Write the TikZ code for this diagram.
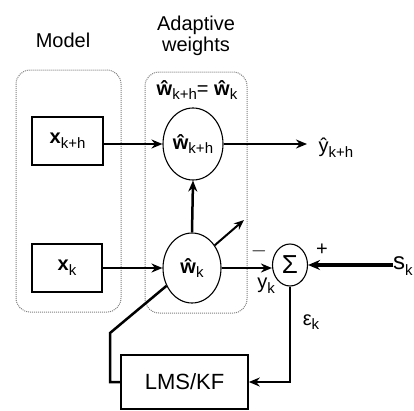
\documentclass[tikz,border=0pt]{standalone}
\usepackage{fontspec}
\setmainfont{Liberation Sans}
\usetikzlibrary{arrows.meta,shapes.geometric}
\newcommand\sbs[1]{\raisebox{-0.45ex}{\fontsize{15}{15}\selectfont #1}}
\newcommand\bw{\textbf{\^w}}
\begin{document}
\begin{tikzpicture}[x=1pt,y=-1pt,
  every node/.style={font=\fontsize{20}{23}\selectfont, inner sep=0pt},
  dotbox/.style={draw=gray, densely dotted, line width=1pt, rounded corners=14pt},
  blk/.style={draw, line width=1.6pt, rectangle},
  circ/.style={draw, ellipse, line width=1.1pt},
  arr/.style={-{Stealth[length=11pt,width=9pt]}, line width=2.5pt},
  lin/.style={line width=2.5pt}]
\useasboundingbox (0,0) rectangle (414,410);
% dotted groups
\draw[dotbox] (16,70) rectangle (121,312);
\draw[dotbox] (145,72) rectangle (247,313);
% labels
\node (model) at (63,40) {Model};
\node (adapt) [align=center] at (196,36) {Adaptive\\[-2pt]weights};
\node (eq) at (197,90) {\bw\sbs{k+h}= \bw\sbs{k}};
% blocks
\node[blk, minimum width=71pt, minimum height=48pt] (xkh) at (67.5,141) {\textbf{x}\sbs{k+h}};
\node[blk, minimum width=70pt, minimum height=48pt] (xk) at (67,268) {\textbf{x}\sbs{k}};
\node[circ, minimum width=60pt, minimum height=72pt] (wkh) at (193,144) {\bw\sbs{k+h}};
\node[circ, minimum width=58pt, minimum height=70pt] (wk) at (192,268) {\bw\sbs{k}};
\node[circ, minimum width=35pt, minimum height=42pt, font=\fontsize{26}{26}\selectfont] (sum) at (290,265) {Σ};
\node[blk, minimum width=127pt, minimum height=54pt, font=\fontsize{22}{24}\selectfont] (lms) at (184.5,382) {LMS/KF};
% text labels
\node (ykh) at (336,148) {\^y\sbs{k+h}};
\node (yk) at (266,286) {y\sbs{k}};
\node (minus) at (259,251) {$-$};
\node (plus) at (322,250) {+};
\node (eps) at (311,322) {ε\sbs{k}};
\node[anchor=west, font=\fontsize{24}{24}\selectfont] (sk) at (393,266) {s\sbs{k}};
% free ends
\coordinate (yend) at (307,144);
\coordinate (diagend) at (244,220);
\coordinate (fbA) at (110,382);
\coordinate (fbB) at (110,333);
% connectors
\draw[arr] (xkh.east |- wkh.west) -- (wkh.west);
\draw[arr] (wkh.east) -- (yend);
\draw[arr] (xk.east) -- (wk.west);
\draw[arr] (wk.north) -- (wkh.south);
\draw[-{Stealth[length=10pt,width=8pt]}, line width=2pt] (wk.45) -- (diagend);
\draw[arr] (wk.east) -- (wk.east -| sum.west);
\draw[-{Stealth[length=12pt,width=10pt]}, line width=3.5pt] (sk.west |- sum.east) -- (sum.east);
\draw[arr] (sum.south) -- (sum.south |- lms.east) -- (lms.east);
\draw[lin] (lms.west) -- (fbA) -- (fbB) -- (wk.215);
\end{tikzpicture}
\end{document}
